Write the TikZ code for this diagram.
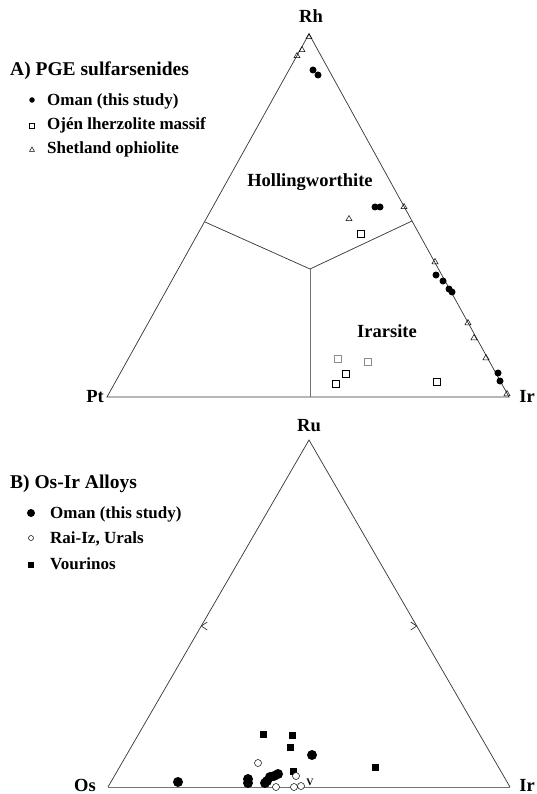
\documentclass[tikz,border=0pt]{standalone}
\usepackage{fontspec}
\setmainfont{Liberation Serif}
\usepackage{tikz}
\usetikzlibrary{shapes.geometric,calc}

\begin{document}
\begin{tikzpicture}[x=1pt, y=-1pt,
    frame/.style={draw=black!80, line width=0.7pt},
    lbl/.style={font=\fontsize{18.5}{20}\selectfont\bfseries, anchor=base, inner sep=0pt},
    head/.style={font=\fontsize{19.5}{22}\selectfont\bfseries, anchor=base west, inner sep=0pt},
    item/.style={font=\fontsize{17}{19}\selectfont\bfseries, anchor=base west, inner sep=0pt},
    oman/.style={circle, fill, inner sep=0pt, minimum size=7pt},
    ojen/.style={rectangle, draw, line width=0.6pt, inner sep=0pt, minimum size=6.5pt},
    shet/.style={regular polygon, regular polygon sides=3, draw, line width=0.5pt, inner sep=0pt, minimum size=7pt},
    omanB/.style={circle, fill, inner sep=0pt, minimum size=10pt},
    raiiz/.style={circle, draw, fill=white, line width=0.5pt, inner sep=0pt, minimum size=7pt},
    vour/.style={rectangle, fill, inner sep=0pt, minimum size=7pt}]
\useasboundingbox (0,0) rectangle (536,794);

% A) PGE sulfarsenides
\coordinate (Rh) at (309,34);
\coordinate (Pt) at (107,397);
\coordinate (Ir) at (509,397);
\coordinate (c) at (310,269);
\coordinate (cl) at (205,222);
\coordinate (cr) at (412,221);
\coordinate (cb) at (310,397);
\draw[frame] (Pt) -- (Ir) -- (Rh) -- cycle;
\draw[frame] (cl) -- (c) -- (cr);
\draw[frame, draw=black!55] (c) -- (cb);

\node (tRh) at (311,23) [lbl] {Rh};
\node (tPt) at (95,402) [lbl] {Pt};
\node (tIr) at (527,402) [lbl] {Ir};
\node (holl) at (310,187) [lbl] {Hollingworthite};
\node (irar) at (387,337) [lbl] {Irarsite};

\foreach \x/\y [count=\i] in {313/70, 318/75, 375/207, 380/207, 436/275, 443/281,
    449/289, 452/292, 498/373, 500/381}
  \node (omA\i) at (\x,\y) [oman] {};
\foreach \x/\y [count=\i] in {361/234, 346/374, 336/384, 437/382}
  \node (oj\i) at (\x,\y) [ojen] {};
\node (oj5) at (338,359) [ojen, draw=black!45] {};
\node (oj6) at (368,362) [ojen, draw=black!45] {};
\foreach \x/\y [count=\i] in {309/37, 302/50, 297/56, 349/219, 404/207, 435/262,
    468/323, 474/338, 486/358, 507/394}
  \node (sh\i) at (\x,\y) [shet] {};

\node (hA) at (10,76) [head] {A) PGE sulfarsenides};
\node (kA1) at (32,100) [oman, minimum size=5.5pt] {};
\node (kA2) at (32,126) [ojen, minimum size=5pt] {};
\node (kA3) at (32,150) [shet, minimum size=6pt] {};
\node (iA1) at (47,106) [item] {Oman (this study)};
\node (iA2) at (47,130) [item] {Ojén lherzolite massif};
\node (iA3) at (47,154) [item] {Shetland ophiolite};

% B) Os-Ir Alloys
\coordinate (Ru) at (309,440);
\coordinate (Os) at (108,787);
\coordinate (IrB) at (510,787);
\draw[frame] (Os) -- (Ru) -- (IrB);
\draw[frame, draw=black!55] (Os) -- (IrB);
\coordinate (mL) at ($(Os)!0.464!(Ru)$);
\coordinate (mR) at ($(IrB)!0.464!(Ru)$);
\draw[frame] ([shift={(6,-4)}]mL) -- (mL) -- ([shift={(6,4)}]mL);
\draw[frame] ([shift={(-6,-4)}]mR) -- (mR) -- ([shift={(-6,4)}]mR);

\node (tRu) at (309,431) [lbl] {Ru};
\node (tOs) at (85,791) [lbl] {Os};
\node (tIrB) at (527,791) [lbl] {Ir};

\foreach \x/\y [count=\i] in {263/734, 292/735, 290/747, 293/771, 375/767}
  \node (vo\i) at (\x,\y) [vour] {};
\foreach \x/\y [count=\i] in {178/782, 248/783, 248/779, 265/783, 267/781, 270/777,
    274/776, 278/774, 312/755}
  \node (omB\i) at (\x,\y) [omanB] {};
\foreach \x/\y [count=\i] in {258/763, 276/787, 294/787, 301/786, 296/776}
  \node (ra\i) at (\x,\y) [raiiz] {};
\node (v) at (310,785) [font=\fontsize{10}{11}\selectfont\bfseries, anchor=base, inner sep=0pt] {V};

\node (hB) at (10,488) [head] {B) Os-Ir Alloys};
\node (kB1) at (31,513) [omanB, minimum size=8pt] {};
\node (kB2) at (31,538) [raiiz, minimum size=5pt] {};
\node (kB3) at (31,565) [vour, minimum size=6pt] {};
\node (iB1) at (50,518) [item] {Oman (this study)};
\node (iB2) at (50,543) [item] {Rai-Iz, Urals};
\node (iB3) at (50,569) [item] {Vourinos};
\end{tikzpicture}
\end{document}
